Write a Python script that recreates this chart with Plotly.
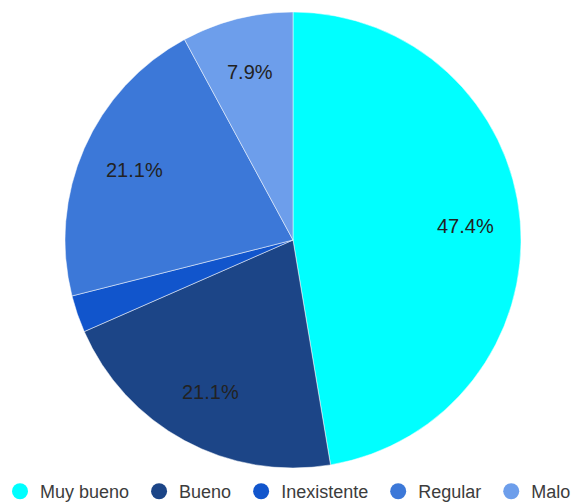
import math
import plotly.graph_objects as go

labels = ["Muy bueno", "Bueno", "Inexistente", "Regular", "Malo"]
counts = [18, 8, 1, 8, 3]
colors = ["#00ffff", "#1c4587", "#1155cc", "#3c78d8", "#6d9eeb"]

W, H = 577, 504
cx, cy, R = 293, 240, 228  # pie centre / radius in pixels

total = sum(counts)

fig = go.Figure()
fig.add_trace(
    go.Pie(
        labels=labels,
        values=counts,
        textinfo="none",
        sort=False,
        direction="clockwise",
        rotation=0,
        marker=dict(colors=colors, line=dict(color="white", width=0.5)),
        hoverinfo="label+percent",
        showlegend=False,
        domain=dict(x=[(cx - R) / W, (cx + R) / W], y=[1 - (cy + R) / H, 1 - (cy - R) / H]),
    )
)

# percentage labels at 3/4 of the radius, skipping the tiny slice
acc = 0
for c in counts:
    share = c / total
    mid = (acc + share / 2) * 2 * math.pi
    acc += share
    if share < 0.05:
        continue
    px_ = cx + 0.76 * R * math.sin(mid)
    py_ = cy - 0.76 * R * math.cos(mid)
    fig.add_annotation(
        x=px_ / W,
        y=1 - py_ / H,
        xref="paper",
        yref="paper",
        xanchor="center",
        yanchor="middle",
        text=f"{share * 100:.1f}%",
        showarrow=False,
        font=dict(family="Liberation Sans, Arial", size=20, color="#222222"),
    )

# round legend markers (a trailing nbsp widens the gap between entries)
for i, (name, col) in enumerate(zip(labels, colors)):
    pad = "\u00a0" if i < len(labels) - 1 else ""
    fig.add_trace(
        go.Scatter(
            x=[None],
            y=[None],
            mode="markers",
            name=name + pad,
            marker=dict(color=col, size=17, symbol="circle"),
        )
    )

fig.update_xaxes(visible=False)
fig.update_yaxes(visible=False)
fig.update_layout(
    width=W,
    height=H,
    margin=dict(l=0, r=0, t=0, b=0, autoexpand=False),
    paper_bgcolor="white",
    plot_bgcolor="white",
    font=dict(family="Liberation Sans, Arial", color="#444444"),
    legend=dict(
        orientation="h",
        x=0,
        xanchor="left",
        y=-0.012,
        yanchor="bottom",
        font=dict(size=18, color="#3c3c3c"),
        itemsizing="trace",
        itemwidth=30,
    ),
)

fig.write_html(
    "out.html",
    config={"displayModeBar": False},
    post_script="document.body.style.margin='0';",
)
